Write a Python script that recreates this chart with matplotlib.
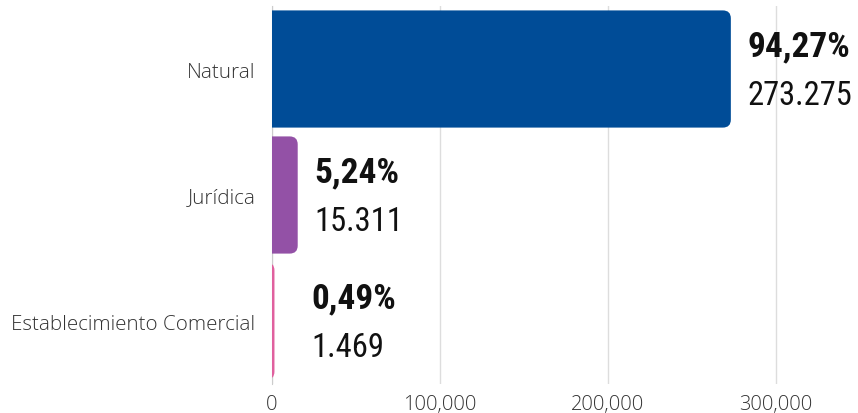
import matplotlib
matplotlib.use("Agg")
import matplotlib.pyplot as plt
from matplotlib.patches import FancyBboxPatch
from matplotlib.ticker import FuncFormatter

categories = ["Natural", "Jurídica", "Establecimiento Comercial"]
counts = [273275, 15311, 1469]
percents = ["94,27%", "5,24%", "0,49%"]
count_labels = ["273.275", "15.311", "1.469"]
colors = ["#004C97", "#9351A6", "#E0609E"]

W, H = 858, 414
fig = plt.figure(figsize=(W / 100, H / 100), dpi=100)
ax = fig.add_axes([272 / W, 1 - 385 / H, (W - 272) / W, 378 / H])

xmax = 349000
ax.set_xlim(0, xmax)
ax.set_ylim(2.5, -0.5)

# data units per pixel, used to keep corners round on an uneven scale
x_per_px = xmax / (W - 272)
y_per_px = 3.0 / 378
r_px = 8
bar_h = 0.93

for i, (v, c) in enumerate(zip(counts, colors)):
    r = r_px * x_per_px
    p = FancyBboxPatch((-r, i - bar_h / 2), v + r, bar_h,
                       boxstyle=f"round,pad=0,rounding_size={r}",
                       mutation_aspect=y_per_px / x_per_px,
                       facecolor=c, edgecolor="none", zorder=3)
    ax.add_patch(p)

val_font = ["Roboto Condensed", "Fira Sans Condensed", "Liberation Sans Narrow", "Lato"]
for i, v in enumerate(counts):
    x = max(v + 17 * x_per_px, 39 * x_per_px)
    ax.text(x, i - 0.18, percents[i], fontsize=25.5, fontweight="bold",
            family=val_font, va="center", ha="left", color="#111111")
    ax.text(x, i + 0.21, count_labels[i], fontsize=23.5,
            family=val_font, va="center", ha="left", color="#111111")

ax.set_xticks([0, 100000, 200000, 300000])
ax.xaxis.set_major_formatter(FuncFormatter(lambda x, _: f"{int(x):,}"))
ax.set_yticks(range(len(categories)))
ax.set_yticklabels(categories)
ax.tick_params(axis="y", length=0, labelsize=14.8, colors="#333333", pad=12)
ax.tick_params(axis="x", length=0, labelsize=14.5, colors="#333333", pad=7)
for lab in ax.get_xticklabels() + ax.get_yticklabels():
    lab.set_family(["Open Sans", "DejaVu Sans"])
    lab.set_fontweight("light")

ax.grid(axis="x", color="#dddddd", linewidth=1, zorder=0)
ax.set_axisbelow(True)
for s in ["top", "right", "bottom"]:
    ax.spines[s].set_visible(False)
ax.spines["left"].set_color("#cccccc")
ax.spines["left"].set_zorder(1)

fig.savefig("out.png", dpi=100)
